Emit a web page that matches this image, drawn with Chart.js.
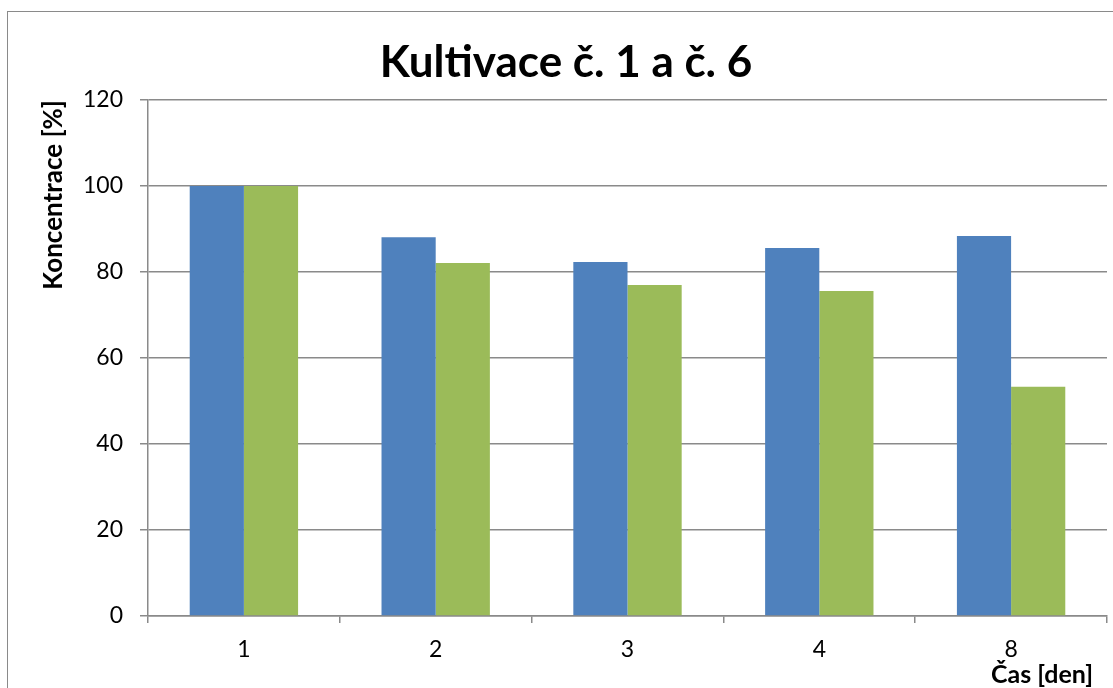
<!DOCTYPE html>
<html>
<head>
<meta charset="utf-8">
<script src="https://cdn.jsdelivr.net/npm/chart.js@4/dist/chart.umd.min.js"></script>
<style>
  html, body { margin: 0; padding: 0; background: #fff; overflow: hidden; }
  #wrap { position: relative; width: 1113px; height: 688px; }
  #frame { position: absolute; left: 7px; top: 11px; width: 1200px; height: 800px;
           border: 1.5px solid #8a8a8a; box-sizing: border-box; }
  canvas { position: absolute; left: 0; top: 0; }
</style>
</head>
<body>
<div id="wrap">
  <div id="frame"></div>
  <canvas id="chart" width="1113" height="688"></canvas>
</div>
<script>
const days = ['1', '2', '3', '4', '8'];
const kultivace1 = [100, 88.1, 82.3, 85.6, 88.4];
const kultivace6 = [100, 82.1, 77.0, 75.6, 53.3];
const yTicks = [0, 20, 40, 60, 80, 100, 120];

const fontFamily = 'Lato, "Open Sans", sans-serif';
const gridColor = '#8a8a8a';

// chart title and x axis title are placed by hand (Excel-like positions)
const textPlugin = {
  id: 'excelTexts',
  afterDraw(chart) {
    const ctx = chart.ctx;
    ctx.save();
    ctx.fillStyle = '#000';
    ctx.textBaseline = 'middle';

    ctx.font = 'bold 44px ' + fontFamily;
    ctx.textAlign = 'center';
    ctx.fillText('Kultivace č. 1 a č. 6', 566, 63);

    ctx.font = 'bold 25px ' + fontFamily;
    ctx.textAlign = 'right';
    ctx.fillText('Čas [den]', chart.chartArea.right - 14, 675);
    ctx.restore();
  }
};

new Chart(document.getElementById('chart'), {
  type: 'bar',
  data: {
    labels: days,
    datasets: [
      { label: 'Kultivace č. 1', data: kultivace1, backgroundColor: '#4f81bd', borderWidth: 0 },
      { label: 'Kultivace č. 6', data: kultivace6, backgroundColor: '#9bbb59', borderWidth: 0 }
    ]
  },
  plugins: [textPlugin],
  options: {
    responsive: false,
    animation: false,
    layout: { padding: { left: 0, right: 6, top: 100, bottom: 0 } },
    categoryPercentage: 0.565,
    barPercentage: 1,
    plugins: {
      legend: { display: false },
      tooltip: { enabled: false },
      title: { display: false }
    },
    scales: {
      x: {
        offset: true,
        grid: { offset: true, drawOnChartArea: false, drawTicks: true, tickLength: 7,
                color: gridColor, lineWidth: 1.5 },
        border: { display: true, color: gridColor, width: 1.5 },
        ticks: { color: '#000', padding: 13, font: { family: fontFamily, size: 23 } },
        afterFit(scale) { scale.height = 72; }
      },
      y: {
        min: 0,
        max: 120,
        afterBuildTicks(scale) { scale.ticks = yTicks.map(v => ({ value: v })); },
        grid: { color: gridColor, lineWidth: 1.5, tickLength: 8 },
        border: { display: true, color: gridColor, width: 1.5 },
        ticks: { color: '#000', padding: 17, font: { family: fontFamily, size: 23 } },
        title: {
          display: true,
          text: 'Koncentrace [%]',
          align: 'end',
          color: '#000',
          font: { family: fontFamily, size: 26, weight: 'bold', lineHeight: 1.2 },
          padding: { top: 38 }
        },
        afterFit(scale) { scale.width = 148; }
      }
    }
  }
});
</script>
</body>
</html>
